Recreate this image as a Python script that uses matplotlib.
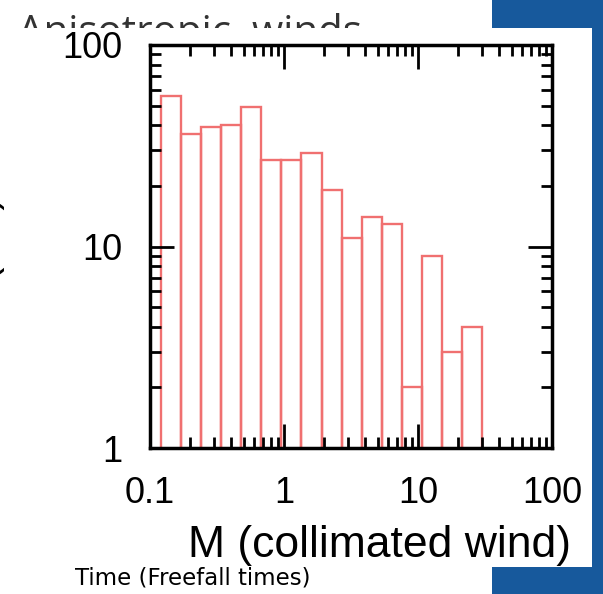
import matplotlib.pyplot as plt
import numpy as np
from matplotlib.patches import Rectangle
from matplotlib.ticker import LogLocator, FixedLocator, NullFormatter

# histogram bin edges (log spaced) and counts
bin_edges = [0.120, 0.170, 0.240, 0.339, 0.479, 0.676, 0.955, 1.35, 1.91,
             2.69, 3.80, 5.37, 7.59, 10.7, 15.1, 21.4, 30.2]
counts = [56, 36, 39, 40, 49, 27, 27, 29, 19, 11, 14, 13, 2, 9, 3, 4]

x_ticks = [0.1, 1, 10, 100]
x_ticklabels = ['0.1', '1', '10', '100']
y_ticks = [1, 10, 100]
y_ticklabels = ['1', '10', '100']

W, H = 603, 594
fig = plt.figure(figsize=(W / 100, H / 100), dpi=100)
fig.patch.set_facecolor('white')


def fx(x):
    return x / W


def fy(y):
    return 1 - y / H


# slide background (blue) and the white picture pasted on it
fig.add_artist(Rectangle((fx(492), 0), 1 - fx(492), 1, transform=fig.transFigure,
                         facecolor='#17599c', edgecolor='none', zorder=-3))
fig.text(fx(18), fy(44), 'Anisotropic  winds', fontsize=29, family='Open Sans',
         color='#333333', ha='left', va='baseline', zorder=-2)
fig.add_artist(Rectangle((0, fy(567)), fx(592), fy(28) - fy(567), transform=fig.transFigure,
                         facecolor='white', edgecolor='none', zorder=-1))
fig.text(fx(75), fy(578), 'Time (Freefall times)', fontsize=16.5, family='DejaVu Sans',
         color='black', ha='left', va='center')

ax = fig.add_axes([fx(150), fy(448), fx(552) - fx(150), fy(45) - fy(448)])
ax.set_facecolor('none')
ax.set_xscale('log')
ax.set_yscale('log')

edges = np.array(bin_edges)
ax.bar(edges[:-1], counts, width=np.diff(edges), align='edge', fill=False,
       edgecolor='#f07070', linewidth=1.7, zorder=1)

ax.set_xlim(0.1, 100)
ax.set_ylim(1, 100)

ax.xaxis.set_major_locator(FixedLocator(x_ticks))
ax.set_xticklabels(x_ticklabels)
ax.yaxis.set_major_locator(FixedLocator(y_ticks))
ax.set_yticklabels(y_ticklabels)
ax.xaxis.set_minor_locator(LogLocator(base=10, subs=np.arange(2, 10)))
ax.yaxis.set_minor_locator(LogLocator(base=10, subs=np.arange(2, 10)))
ax.xaxis.set_minor_formatter(NullFormatter())
ax.yaxis.set_minor_formatter(NullFormatter())

ax.tick_params(which='both', direction='in', top=True, right=True, color='black')
ax.tick_params(which='major', length=17, width=2, pad=20,
               labelsize=26, labelfontfamily='Liberation Sans')
ax.tick_params(which='minor', length=8, width=2)
for s in ax.spines.values():
    s.set_linewidth(2.5)

fig.text(fx(380), fy(545), 'M (collimated wind)', fontsize=32, family='Liberation Sans',
         ha='center', va='center')
# y label, mostly cut off by the left border
fig.text(fx(-14), fy(258), 'N (>M)', fontsize=29, family='Liberation Sans',
         rotation=90, ha='center', va='center')

fig.savefig('out.png', dpi=100)
